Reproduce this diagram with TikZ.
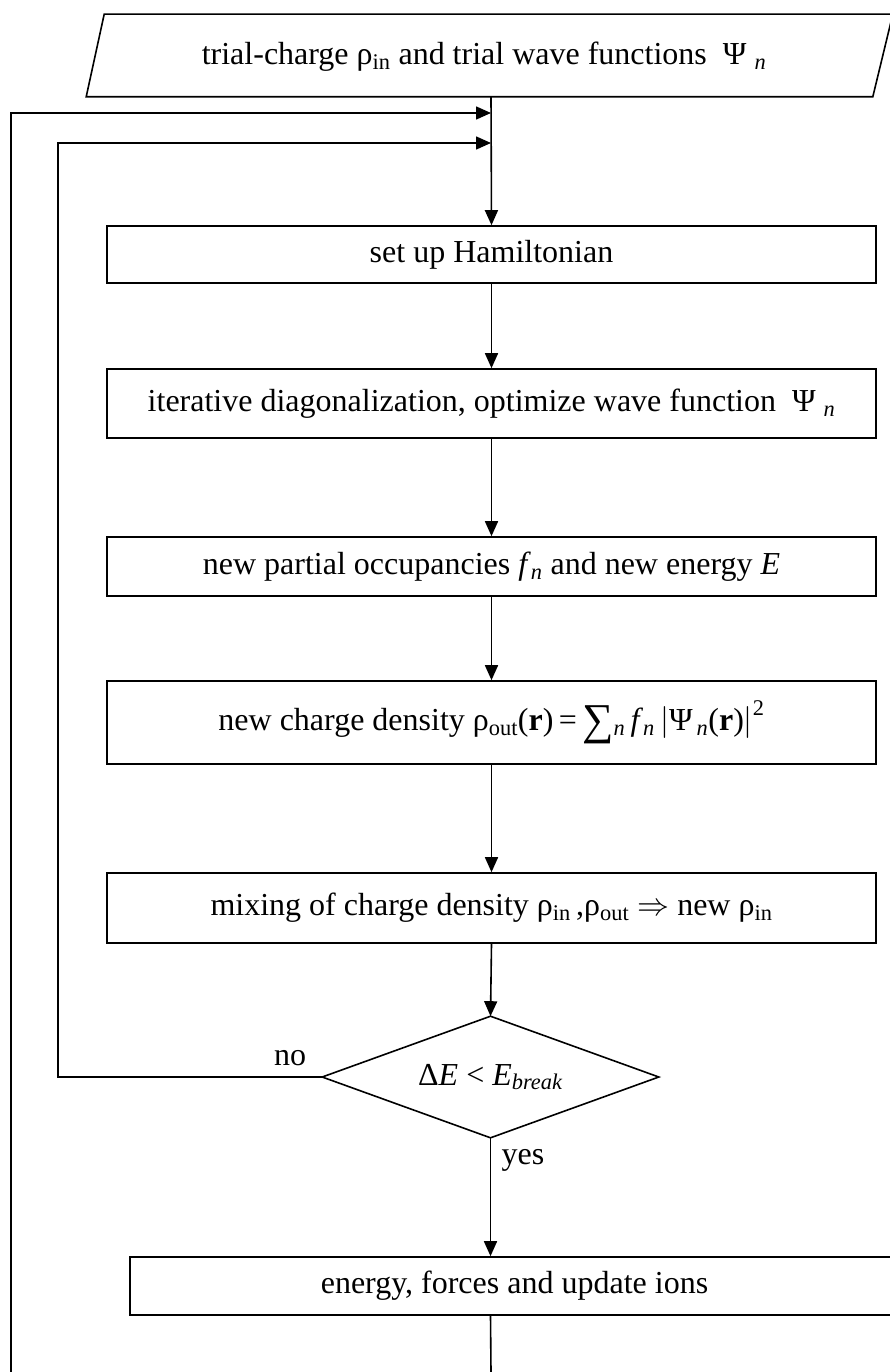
\RequirePackage{fix-cm}
\documentclass[tikz,border=0pt]{standalone}
\usepackage{fontspec}
\setmainfont{Liberation Serif}
\usetikzlibrary{arrows.meta,calc}
\begin{document}
\begin{tikzpicture}[x=1pt,y=-1pt,line width=1.6pt,
  every node/.style={font=\fontsize{32}{36}\selectfont},
  proc/.style={draw,rectangle,minimum width=769pt,inner sep=0pt},
  flow/.style={-{Triangle[length=15pt,width=13pt]}},
  lbl/.style={inner sep=0pt}]
\useasboundingbox (0,0) rectangle (889,1372);
% start (parallelogram)
\node[minimum width=794pt,minimum height=81pt,inner sep=0pt] (start) at (491,55.5) {};
\draw ($(start.south west)+(-7,0)$) -- ($(start.south east)+(-16,0)$) -- ($(start.north east)+(4,0)$) -- ($(start.north west)+(11,0)$) -- cycle;
\node[lbl] (starttext) at (484,57) {trial-charge\ ρ\textsubscript{in} and trial wave functions\ \ Ψ\textsubscript{\hspace{8pt}\textit{n}}};
% process boxes
\node[proc,minimum height=57pt] (ham) at (491.5,254.5) {set up Hamiltonian};
\node[proc,minimum height=69pt] (iter) at (491.5,403.5) {iterative diagonalization, optimize wave function\ \ Ψ\textsubscript{\hspace{8pt}\textit{n}}};
\node[proc,minimum height=59pt] (part) at (491.5,566.5) {new partial occupancies \textit{f}\textsubscript{\textit{n}} and new energy \textit{E}};
\node[proc,minimum height=83pt] (dens) at (491.5,722.5) {new charge density\ ρ\textsubscript{out}(\textbf{r})\,=\,\raisebox{-4pt}{\fontsize{44}{44}\selectfont ∑}\textsubscript{\textit{n}}\,\textit{f}\textsubscript{\textit{n}}\,$\bigl|$Ψ\textsubscript{\hspace{4pt}\textit{n}}(\textbf{r})$\bigr|^{\mathrm{2}}$};
\node[proc,minimum height=70pt] (mix) at (491.5,908) {mixing of charge density\ ρ\textsubscript{in}\,,ρ\textsubscript{out} $\Rightarrow$ new ρ\textsubscript{in}};
\node[minimum width=335pt,minimum height=120pt,inner sep=0pt] (dec) at (490.5,1077) {Δ\textit{E} < \textit{E}\textsubscript{\textit{break}}};
\draw (dec.north) -- (dec.east) -- (dec.south) -- (dec.west) -- cycle;
\node[draw,rectangle,minimum width=769pt,minimum height=58pt,inner sep=0pt] (ener) at (514.5,1286) {energy, forces and update ions};
% labels
\node[lbl] (no) at (290,1058) {no};
\node[lbl] (yes) at (523,1160) {yes};
% junctions and free ends
\coordinate (j1) at (491,113);
\coordinate (j2) at (491,143);
\coordinate (oL) at (11,113);
\coordinate (oB) at (11,1372);
\coordinate (iL) at (58,143);
\coordinate (bot) at (491,1372);
% connectors
\draw[flow] (start.south) -- (ham.north);
\draw[flow] (ham.south) -- (iter.north);
\draw[flow] (iter.south) -- (part.north);
\draw[flow] (part.south) -- (dens.north);
\draw[flow] (dens.south) -- (mix.north);
\draw[flow] (mix.south) -- (dec.north);
\draw[flow] (dec.south) -- (ener.north -| dec.south);
\draw (ener.south -| dec.south) -- (bot);
\draw[flow] (dec.west) -| (iL) -- (j2);
\draw[flow] (oB) -- (oL) -- (j1);
\end{tikzpicture}
\end{document}
